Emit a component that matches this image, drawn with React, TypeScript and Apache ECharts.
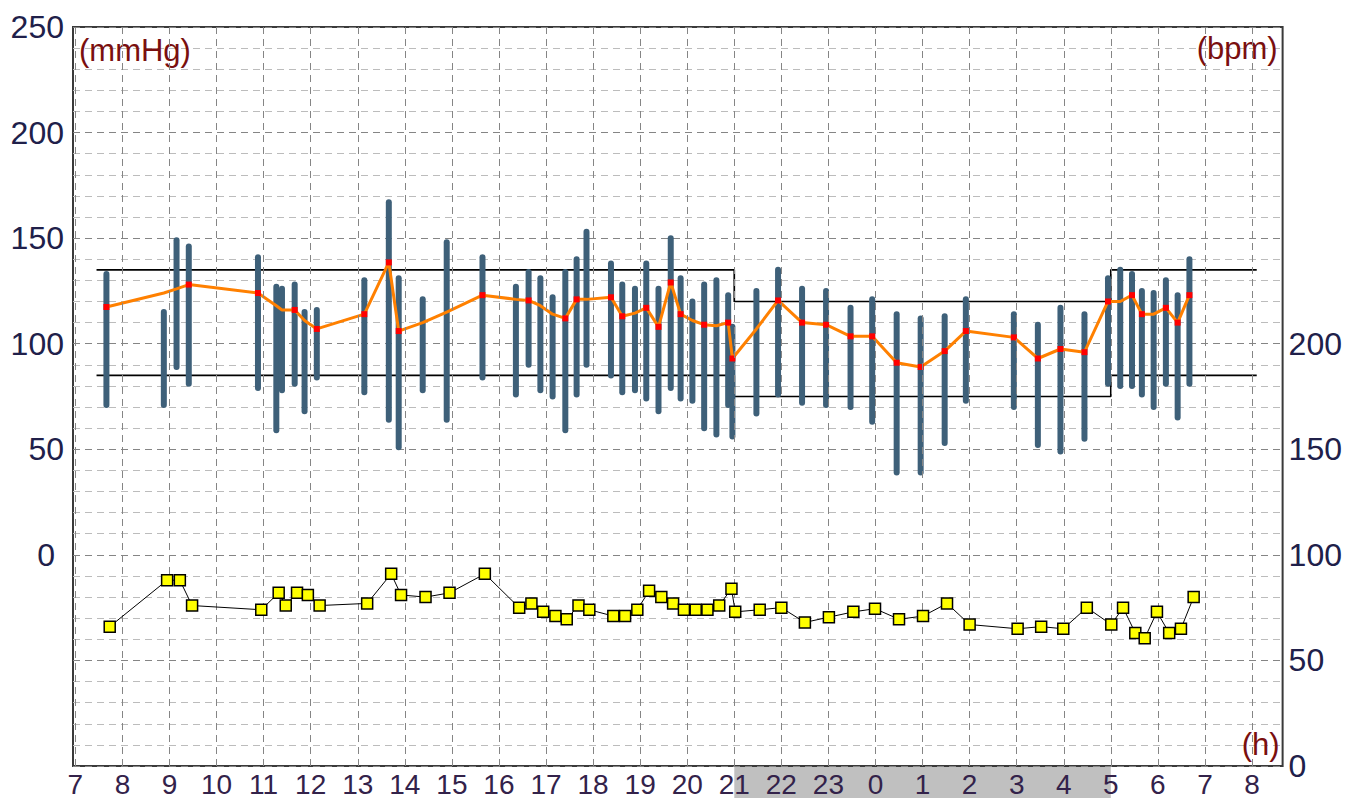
import { useEffect, useRef } from 'react';
import * as echarts from 'echarts';

// ---- Data ----
const barHours = [7.66, 8.88, 9.15, 9.41, 10.88, 11.27, 11.39, 11.66, 11.87, 12.13, 13.14, 13.66, 13.87, 14.38, 14.89, 15.65, 16.36, 16.63, 16.88, 17.14, 17.41, 17.65, 17.86, 18.38, 18.62, 18.89, 19.13, 19.39, 19.65, 19.86, 20.11, 20.36, 20.62, 20.87, 20.96, 21.47, 21.93, 22.44, 22.95, 23.47, 23.93, 24.45, 24.96, 25.47, 25.92, 26.94, 27.45, 27.93, 28.44, 28.94, 29.2, 29.45, 29.66, 29.91, 30.17, 30.42, 30.67];
const systolic = [133, 115, 149, 146, 141, 127, 126, 128, 115, 116, 130, 167, 131, 121, 148, 141, 127, 134, 131, 122, 134, 140, 153, 138, 128, 126, 138, 126, 150, 131, 120, 128, 130, 123, 108, 125, 135, 126, 125, 117, 121, 114, 112, 113, 121, 114, 109, 117, 114, 131, 135, 133, 125, 124, 130, 123, 140];
const diastolic = [71, 71, 89, 81, 79, 59, 78, 81, 68, 84, 77, 64, 51, 78, 64, 84, 76, 90, 78, 75, 59, 76, 90, 85, 77, 78, 74, 68, 79, 74, 73, 60, 57, 71, 56, 67, 76, 72, 71, 70, 63, 39, 39, 53, 73, 70, 52, 49, 55, 81, 80, 80, 76, 70, 81, 65, 81];
const trend = [117.4, 124, 126, 128, 124, 118, 116, 116, 111, 107, 114, 138.5, 106, 110, 115, 123, 121, 120.5, 118, 114, 112, 121, 121, 122, 113, 114.5, 117, 108, 129, 114, 111, 109, 108.5, 110, 93, 107, 120.5, 110, 109, 103.5, 103.5, 91, 89, 96.5, 106, 103, 93, 97.5, 96, 120, 120, 123, 114, 114, 117, 110, 123];
const trendMarked = [1, 0, 0, 1, 1, 0, 0, 1, 0, 1, 1, 1, 1, 0, 0, 1, 0, 1, 0, 0, 1, 1, 0, 1, 1, 0, 1, 1, 1, 1, 0, 1, 0, 1, 1, 0, 1, 1, 1, 1, 1, 1, 1, 1, 1, 1, 1, 1, 1, 1, 0, 1, 1, 0, 1, 1, 1];

const hrHours = [7.73, 8.95, 9.22, 9.48, 10.95, 11.32, 11.47, 11.71, 11.94, 12.19, 13.2, 13.71, 13.92, 14.44, 14.95, 15.7, 16.43, 16.69, 16.94, 17.2, 17.44, 17.69, 17.92, 18.43, 18.68, 18.94, 19.19, 19.45, 19.7, 19.93, 20.18, 20.43, 20.68, 20.94, 21.02, 21.54, 22.0, 22.5, 23.01, 23.53, 23.99, 24.5, 25.01, 25.52, 26.0, 27.02, 27.52, 27.99, 28.49, 29.01, 29.26, 29.52, 29.72, 29.98, 30.24, 30.49, 30.76];
const heartRate = [66, 88, 88, 76, 74, 82, 76, 82, 81, 76, 77, 91, 81, 80, 82, 91, 75, 77, 73, 71, 69.5, 76, 74, 71, 71, 74, 83, 80, 77, 74, 74, 74, 76, 84, 73, 74, 75, 68, 70.5, 73, 74.5, 69.5, 71, 77, 67, 65, 66, 65, 75, 67, 75, 63, 60.5, 73, 63, 65, 80];

const limitHours = [7.45, 21, 21, 29, 29, 32.1];
const upperLimit = [135, 135, 120, 120, 135, 135];
const lowerLimit = [85, 85, 75, 75, 85, 85];

const hourTicks = [7, 8, 9, 10, 11, 12, 13, 14, 15, 16, 17, 18, 19, 20, 21, 22, 23, 24, 25, 26, 27, 28, 29, 30, 31, 32];
const nightStart = 21;
const nightEnd = 29;

const FONT = '"Liberation Sans", Arial, sans-serif';

export default function App() {
  const ref = useRef<HTMLDivElement>(null);
  useEffect(() => {
    const chart = echarts.init(ref.current!, undefined, { renderer: 'svg' });
    const option: any = {
      animation: false,
      backgroundColor: '#ffffff',
      grid: {
        left: 73, right: 61, top: 27, bottom: 30,
        show: true, borderColor: '#3a3a3a', borderWidth: 2, backgroundColor: '#ffffff',
      },
      xAxis: {
        type: 'value', min: 6.95, max: 32.65,
        axisLine: { show: false }, axisTick: { show: false }, splitLine: { show: false },
        axisLabel: {
          customValues: hourTicks,
          formatter: (v: number) => String(Math.round(v) % 24),
          fontSize: 28, fontFamily: FONT, color: '#33224a', margin: 4,
        },
      },
      yAxis: [
        {
          type: 'value', min: -100, max: 250, interval: 10, position: 'left',
          axisLine: { show: false }, axisTick: { show: false },
          splitLine: { show: true, lineStyle: { type: [7, 5], width: 1, color: ['#858585', '#bcbcbc', '#bcbcbc', '#bcbcbc', '#bcbcbc'] } },
          axisLabel: {
            formatter: (v: number) => (v >= 0 && v % 50 === 0 ? (v === 0 ? '{z|0}' : String(v)) : ''),
            fontSize: 32, fontFamily: FONT, color: '#20204a', margin: 9,
            rich: { z: { fontSize: 32, fontFamily: FONT, color: '#20204a', padding: [0, 9, 0, 0] } },
          },
        },
        {
          type: 'value', min: 0, max: 350, interval: 10, position: 'right',
          axisLine: { show: false }, axisTick: { show: false }, splitLine: { show: false },
          axisLabel: {
            formatter: (v: number) => (v <= 200 && v % 50 === 0 ? String(v) : ''),
            fontSize: 32, fontFamily: FONT, color: '#20204a', margin: 6,
          },
        },
      ],
      series: [
        {
          name: 'hourGrid', type: 'line', data: [], z: 1, silent: true,
          markLine: {
            silent: true, symbol: ['none', 'none'], label: { show: false },
            lineStyle: { type: [7, 5], color: '#858585', width: 1 },
            emphasis: { disabled: true },
            data: hourTicks.map((h) => ({ xAxis: h })),
          },
        },
        {
          name: 'upper', type: 'line', z: 2, symbol: 'none', silent: true,
          lineStyle: { color: '#000', width: 1.7 },
          data: limitHours.map((h, i) => [h, upperLimit[i]]),
        },
        {
          name: 'lower', type: 'line', z: 2, symbol: 'none', silent: true,
          lineStyle: { color: '#000', width: 1.7 },
          data: limitHours.map((h, i) => [h, lowerLimit[i]]),
        },
        {
          name: 'bp', type: 'custom', z: 3, silent: true,
          data: barHours.map((h, i) => [h, systolic[i], diastolic[i]]),
          encode: { x: 0, y: [1, 2] },
          renderItem: (_p: any, api: any) => {
            const h = api.value(0);
            const a = api.coord([h, api.value(1)]);
            const b = api.coord([h, api.value(2)]);
            return {
              type: 'line',
              shape: { x1: a[0], y1: a[1], x2: b[0], y2: b[1] },
              style: { stroke: '#3e6079', lineWidth: 6, lineCap: 'round' },
            };
          },
        },
        {
          name: 'trend', type: 'line', z: 4, silent: true,
          symbol: 'rect', symbolSize: 6, showSymbol: true,
          itemStyle: { color: '#ff0000' },
          lineStyle: { color: '#ff8000', width: 3 },
          data: barHours.map((h, i) => ({ value: [h, trend[i]], symbol: trendMarked[i] ? 'rect' : 'none' })),
        },
        {
          name: 'hr', type: 'line', yAxisIndex: 1, z: 5, silent: true,
          symbol: 'rect', symbolSize: 11, showSymbol: true,
          itemStyle: { color: '#ffff00', borderColor: '#000', borderWidth: 1.5 },
          lineStyle: { color: '#000', width: 1 },
          data: hrHours.map((h, i) => [h, heartRate[i]]),
        },
      ],
    };
    chart.setOption(option);

    const x0 = chart.convertToPixel({ xAxisIndex: 0 }, nightStart) as number;
    const x1 = chart.convertToPixel({ xAxisIndex: 0 }, nightEnd) as number;
    const yAxisBottom = chart.convertToPixel({ yAxisIndex: 0 }, -100) as number;
    const yTop = chart.convertToPixel({ yAxisIndex: 0 }, 250) as number;
    const xLeft = chart.convertToPixel({ xAxisIndex: 0 }, 6.95) as number;
    const xRight = chart.convertToPixel({ xAxisIndex: 0 }, 32.65) as number;

    chart.setOption({
      graphic: [
        {
          type: 'rect', z: -1, silent: true,
          shape: { x: x0, y: yAxisBottom + 1, width: x1 - x0, height: 40 },
          style: { fill: '#c0c0c0' },
        },
        {
          type: 'text', silent: true,
          style: { text: '(mmHg)', x: xLeft + 6, y: yTop + 23, textVerticalAlign: 'middle', fill: '#7a0f0f', fontSize: 31, fontFamily: FONT },
        },
        {
          type: 'text', silent: true,
          style: { text: '(bpm)', x: xRight - 5, y: yTop + 21, textAlign: 'right', textVerticalAlign: 'middle', fill: '#7a0f0f', fontSize: 31, fontFamily: FONT },
        },
        {
          type: 'text', silent: true,
          style: { text: '(h)', x: xRight - 3, y: yAxisBottom - 22, textAlign: 'right', textVerticalAlign: 'middle', fill: '#7a0f0f', fontSize: 31, fontFamily: FONT },
        },
      ],
    });

    return () => chart.dispose();
  }, []);
  return <div ref={ref} style={{ position: 'fixed', left: 0, top: 0, width: 1345, height: 798, background: '#fff' }} />;
}
